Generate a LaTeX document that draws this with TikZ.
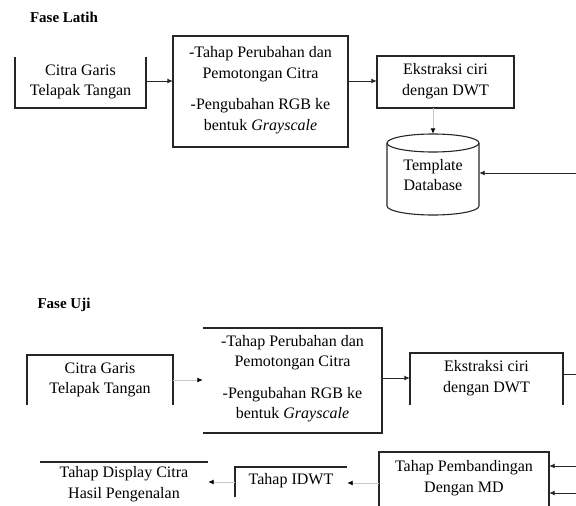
\documentclass[tikz,border=0pt]{standalone}
\usepackage{fontspec}
\setmainfont{Liberation Serif}
\usetikzlibrary{arrows.meta}
\begin{document}
\begin{tikzpicture}[x=1pt,y=-1pt,
  txt/.style={font=\fontsize{16}{20.5}\selectfont, align=center, inner sep=0pt},
  title/.style={font=\bfseries\fontsize{15}{17}\selectfont, inner sep=0pt},
  edge/.style={line width=1.1pt, draw=black!85},
  conn/.style={line width=0.9pt, draw=black!85, -{Latex[length=5.5pt,width=5pt]}},
  fconn/.style={line width=0.9pt, draw=black!22, -{Latex[length=5.5pt,width=5pt,color=black]}},
  plain/.style={line width=0.9pt, draw=black!85},
]
\useasboundingbox (0,0) rectangle (576,506);

% ---------- Fase Latih ----------
\node[title] (t1) at (64,17) {Fase Latih};

\node[txt, minimum width=131pt, minimum height=51pt] (b1) at (80.5,82) {Citra Garis\\Telapak Tangan};
\draw[edge] (15,57) -- (15,108) -- (146,108) -- (146,57);

\node[txt, minimum width=175pt, minimum height=111pt] (b2) at (260.5,90)
  {-Tahap Perubahan dan\\Pemotongan Citra\\[11pt]-Pengubahan RGB ke\\bentuk \textit{Grayscale}};
\draw[edge] (173,36) rectangle (348,147);

\node[txt, minimum width=137pt, minimum height=52pt] (b3) at (445.5,81) {Ekstraksi ciri\\dengan DWT};
\draw[edge] (377,56) rectangle (514,108);

\node[txt, minimum width=92pt, minimum height=82pt] (db) at (433,175) {Template\\Database};
\draw[edge] (387,143) -- (387,206) arc[start angle=180, end angle=0, x radius=46, y radius=9] -- (479,143);
\draw[edge] (433,143) ellipse [x radius=46, y radius=9];

\coordinate (inR) at (576,173);

\draw[conn] (b1.east |- 0,81) -- (b2.west |- 0,81);
\draw[conn] (b2.east |- 0,81) -- (b3.west |- 0,81);
\draw[fconn] (b3.south -| db.north) ++(0,1) -- (db.north);
\draw[conn] (inR) -- (db.east |- inR);

% ---------- Fase Uji ----------
\node[title] (t2) at (64,305) {Fase Uji};

\node[txt, minimum width=146pt, minimum height=50pt] (b4) at (100,380) {Citra Garis\\Telapak Tangan};
\draw[edge] (27,405) -- (27,355) -- (173,355) -- (173,405);

\node[txt, minimum width=179pt, minimum height=105pt] (b5) at (292.5,378.5)
  {-Tahap Perubahan dan\\Pemotongan Citra\\[11pt]-Pengubahan RGB ke\\bentuk \textit{Grayscale}};
\draw[edge] (203,328) -- (382,328) -- (382,433) -- (203,433);

\node[txt, minimum width=153pt, minimum height=52pt] (b6) at (486.5,378) {Ekstraksi ciri\\dengan DWT};
\draw[edge] (410,405) -- (410,353) -- (563,353) -- (563,405);

\node[txt, minimum width=170pt, minimum height=54pt] (b7) at (464,478) {Tahap Pembandingan\\Dengan MD};
\draw[edge] (379,506) -- (379,452) -- (549,452) -- (549,506);

\node[txt, minimum width=112pt, minimum height=30pt] (b8) at (291,481) {Tahap IDWT};
\draw[edge] (235,497) -- (235,467) -- (347,467);

\node[txt, minimum width=168pt, minimum height=44pt] (b9) at (124,484) {Tahap Display Citra\\Hasil Pengenalan};
\draw[edge] (40,462) -- (208,462);

\coordinate (outR) at (576,374);
\coordinate (inR1) at (576,466);
\coordinate (inR2) at (576,493);

\draw[fconn] (b4.east |- 0,380) -- (b5.west |- 0,380);
\draw[conn] (b5.east |- 0,378) -- (b6.west |- 0,378);
\draw[plain] (b6.east |- outR) -- (outR);
\draw[conn] (inR1) -- (b7.east |- inR1);
\draw[conn] (inR2) -- (b7.east |- inR2);
\draw[fconn] (b7.west |- 0,483) -- (b8.east |- 0,483);
\draw[fconn] (b8.west |- 0,482) -- (b9.east |- 0,482);
\end{tikzpicture}
\end{document}
